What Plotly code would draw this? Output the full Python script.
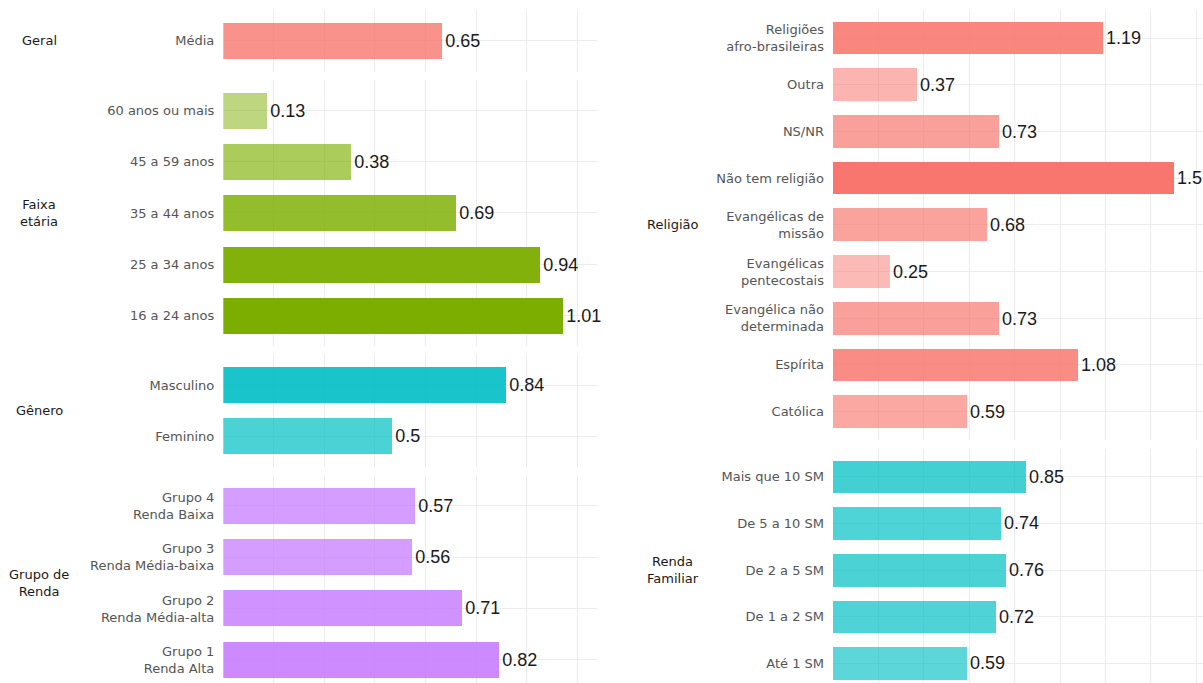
import plotly.graph_objects as go

# ---- data -------------------------------------------------------------
geral_cats = ["Média"]
geral_vals = [0.65]

faixa_cats = ["60 anos ou mais", "45 a 59 anos", "35 a 44 anos", "25 a 34 anos", "16 a 24 anos"]
faixa_vals = [0.13, 0.38, 0.69, 0.94, 1.01]

genero_cats = ["Masculino", "Feminino"]
genero_vals = [0.84, 0.5]

grupo_cats = ["Grupo 4<br>Renda Baixa", "Grupo 3<br>Renda Média-baixa",
              "Grupo 2<br>Renda Média-alta", "Grupo 1<br>Renda Alta"]
grupo_vals = [0.57, 0.56, 0.71, 0.82]

religiao_cats = ["Religiões<br>afro-brasileiras", "Outra", "NS/NR", "Não tem religião",
                 "Evangélicas de<br>missão", "Evangélicas<br>pentecostais",
                 "Evangélica não<br>determinada", "Espírita", "Católica"]
religiao_vals = [1.19, 0.37, 0.73, 1.5, 0.68, 0.25, 0.73, 1.08, 0.59]

renda_cats = ["Mais que 10 SM", "De 5 a 10 SM", "De 2 a 5 SM", "De 1 a 2 SM", "Até 1 SM"]
renda_vals = [0.85, 0.74, 0.76, 0.72, 0.59]

# ---- styling ----------------------------------------------------------
W, H = 1203, 683
RED, GREEN, TEAL, PURPLE = (248, 118, 109), (124, 174, 0), (0, 191, 196), (199, 124, 255)
GRID = "#ececec"
TICK_FONT = dict(family="DejaVu Sans", size=13, color="#555555")
STRIP_FONT = dict(family="DejaVu Sans", size=13, color="#1a1a1a")
VALUE_FONT = dict(family="Liberation Sans, Arial", size=18, color="#1a1a1a")
BAR_WIDTH = 0.7

columns = [
    dict(x0=223.3, x1=597.0, px_per_unit=337.0, row_px=51.3, top=10.0, gap=8.0,
         dtick=0.15, strip_x=39,
         panels=[("Geral", geral_cats, geral_vals, RED),
                 ("Faixa<br>etária", faixa_cats, faixa_vals, GREEN),
                 ("Gênero", genero_cats, genero_vals, TEAL),
                 ("Grupo de<br>Renda", grupo_cats, grupo_vals, PURPLE)]),
    dict(x0=833.0, x1=1203.0, px_per_unit=227.0, row_px=46.7, top=10.0, gap=9.0,
         dtick=0.2, strip_x=673,
         panels=[("Religião", religiao_cats, religiao_vals, RED),
                 ("Renda<br>Familiar", renda_cats, renda_vals, TEAL)]),
]


def rgba(rgb, a):
    return "rgba(%d,%d,%d,%.3f)" % (rgb[0], rgb[1], rgb[2], a)


fig = go.Figure()
layout = {}
annotations = []
idx = 0
for col in columns:
    all_vals = [v for p in col["panels"] for v in p[2]]
    vmin, vmax = min(all_vals), max(all_vals)
    xmax = (col["x1"] - col["x0"]) / col["px_per_unit"]
    ticks = []
    t = 0.0
    while t <= xmax + 1e-9:
        ticks.append(round(t, 4))
        t += col["dtick"]
    top = col["top"]
    for strip, cats, vals, base in col["panels"]:
        idx += 1
        sfx = "" if idx == 1 else str(idx)
        n = len(cats)
        u = col["row_px"]
        bottom = top + (n + 0.2) * u
        vis_bottom = min(bottom, H)
        # opacity follows the value, as an alpha scale from 0.5 to 1
        colors = [rgba(base, 0.5 + 0.5 * (v - vmin) / (vmax - vmin)) for v in vals]
        fig.add_trace(go.Bar(
            x=vals, y=cats, orientation="h", width=BAR_WIDTH,
            marker=dict(color=colors, line=dict(width=0)),
            texttemplate="%{x}", textposition="outside",
            outsidetextfont=VALUE_FONT, constraintext="none", cliponaxis=False,
            xaxis="x" + sfx, yaxis="y" + sfx, showlegend=False, hoverinfo="skip",
        ))
        layout["xaxis" + sfx] = dict(
            domain=[col["x0"] / W, col["x1"] / W], range=[0, xmax],
            anchor="y" + sfx, tickmode="array", tickvals=ticks,
            showticklabels=False, showgrid=True, gridcolor=GRID, gridwidth=1,
            zeroline=False, showline=False, ticks="", fixedrange=True,
        )
        layout["yaxis" + sfx] = dict(
            domain=[1 - vis_bottom / H, 1 - top / H], anchor="x" + sfx,
            type="category", categoryorder="array", categoryarray=cats,
            range=[(vis_bottom - top) / u - 0.6, -0.6],
            showgrid=True, gridcolor=GRID, gridwidth=1, zeroline=False,
            showline=False, ticks="", tickfont=TICK_FONT, ticklabelstandoff=8,
            fixedrange=True,
        )
        annotations.append(dict(
            text=strip, xref="paper", yref="paper", x=col["strip_x"] / W,
            y=1 - ((top + vis_bottom) / 2 if bottom <= H else (top + bottom) / 2) / H,
            xanchor="center", yanchor="middle", showarrow=False, font=STRIP_FONT,
            align="center",
        ))
        top = bottom + col["gap"]

fig.update_layout(
    width=W, height=H, margin=dict(l=0, r=0, t=0, b=0),
    paper_bgcolor="white", plot_bgcolor="white",
    bargap=0, annotations=annotations, **layout,
)
fig.write_html("out.html")
